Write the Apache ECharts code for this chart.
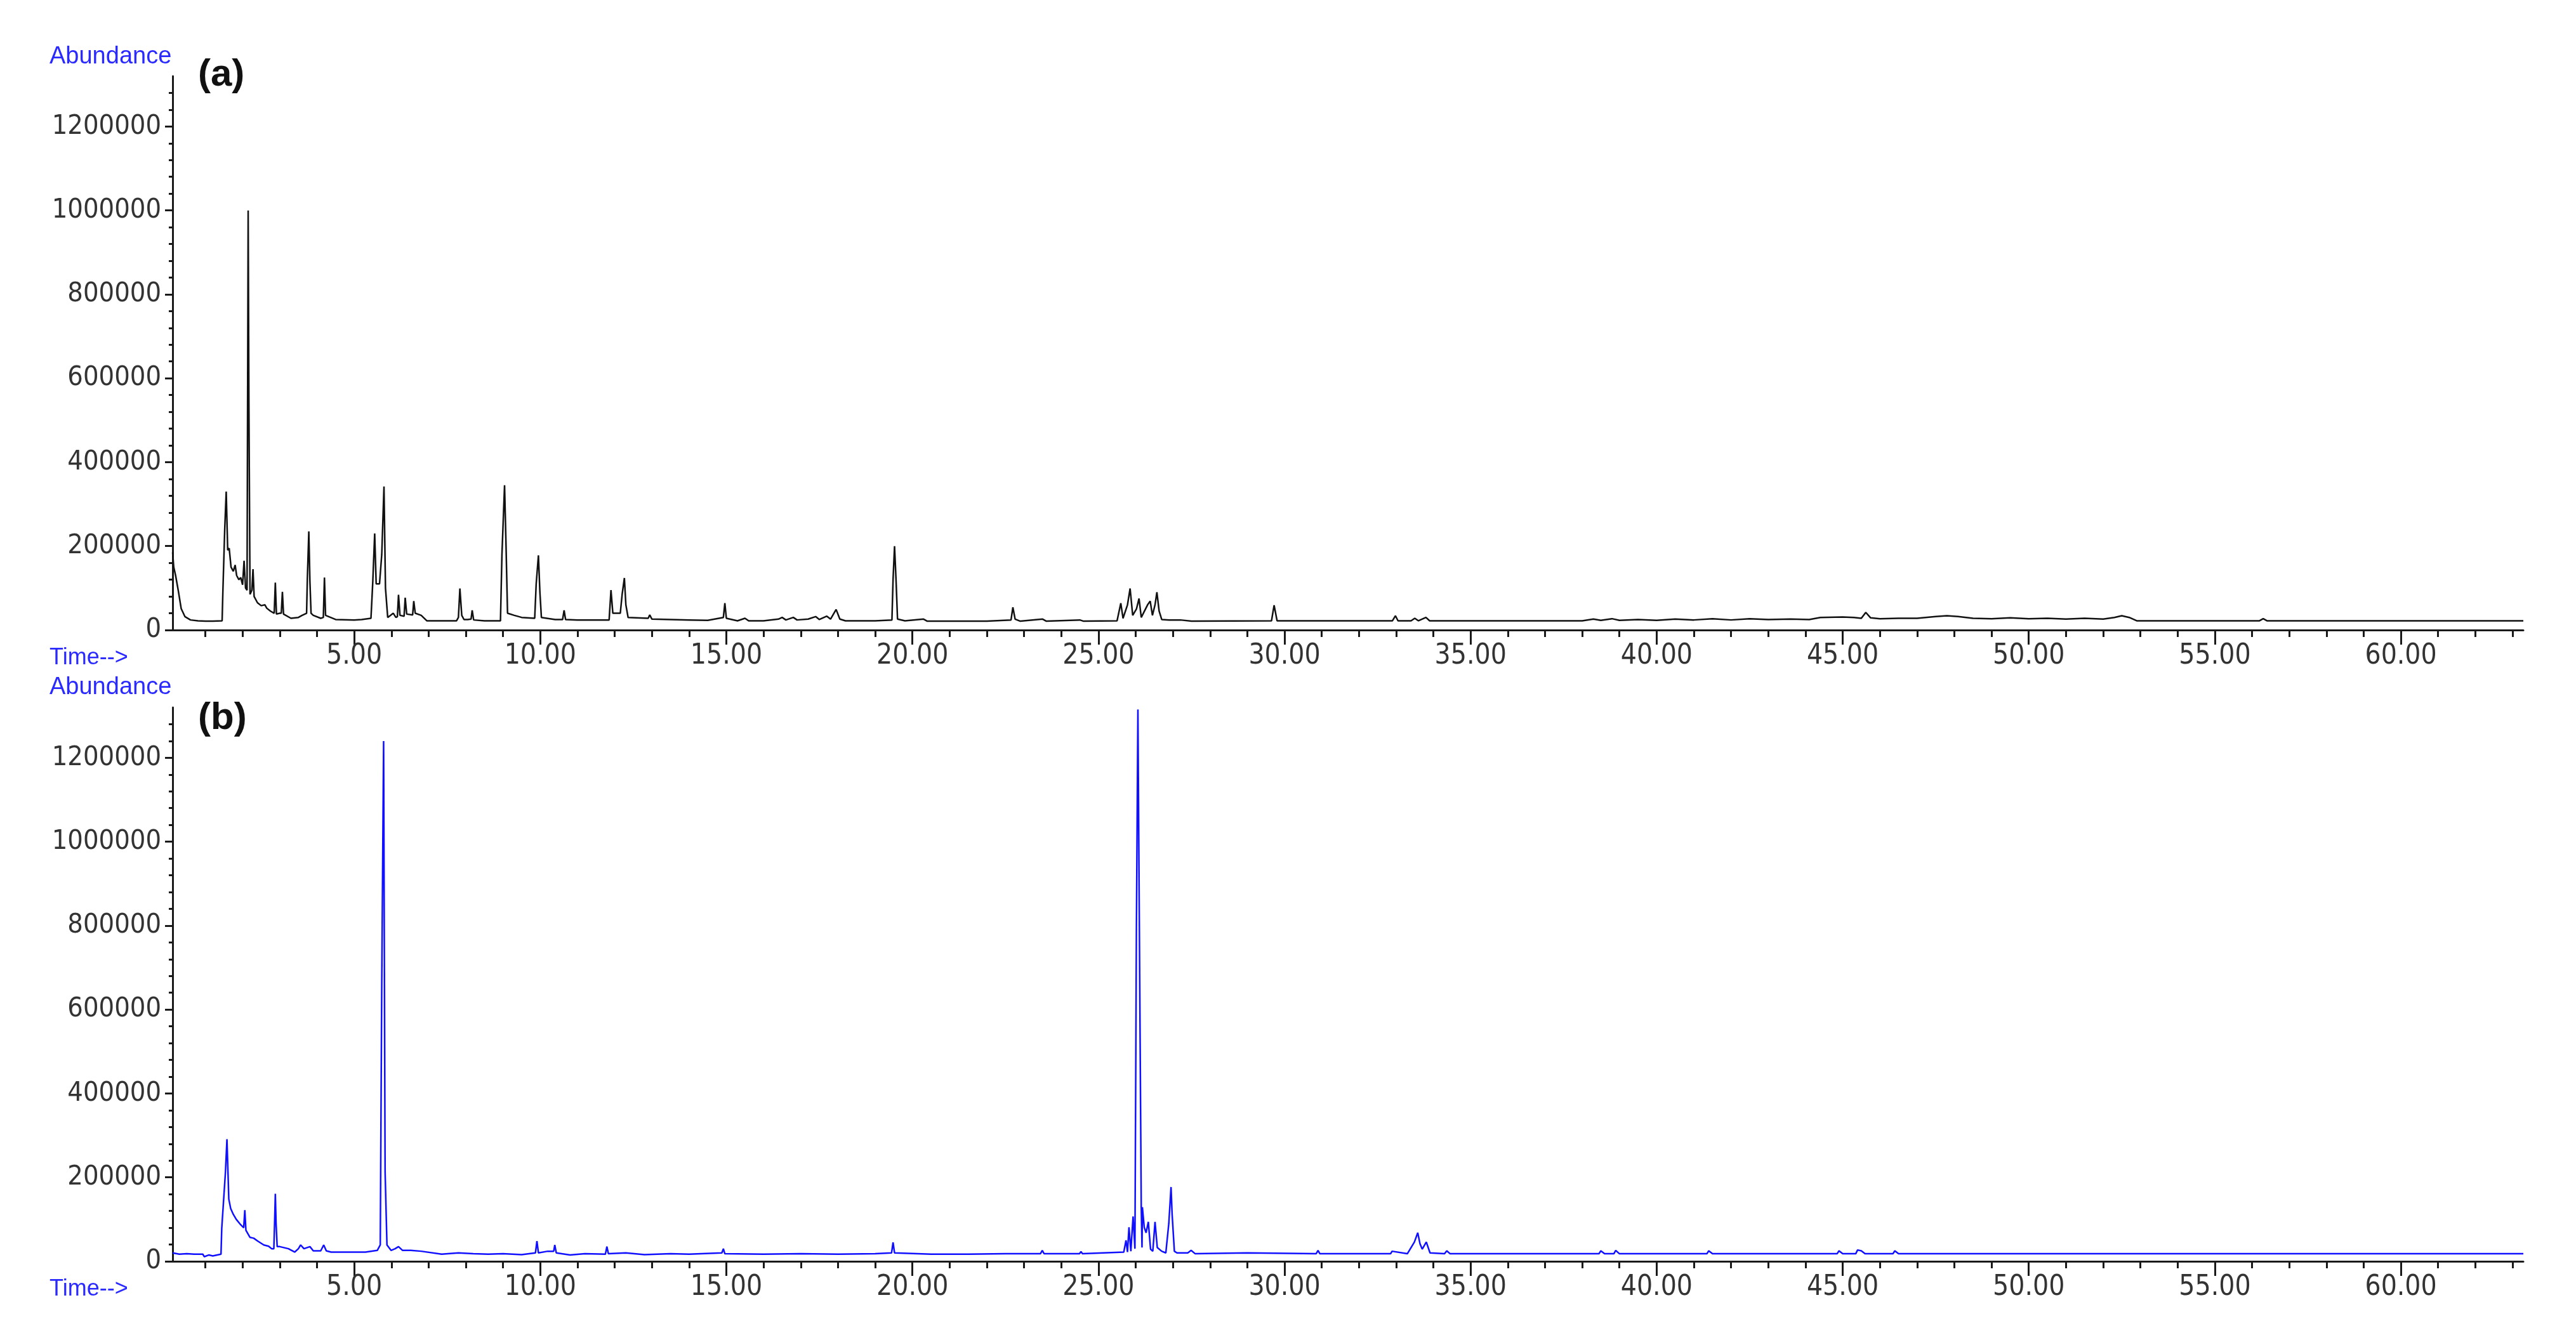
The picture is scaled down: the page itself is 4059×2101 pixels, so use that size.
<!DOCTYPE html>
<html>
<head>
<meta charset="utf-8">
<script src="https://cdn.jsdelivr.net/npm/echarts@6/dist/echarts.min.js"></script>
<style>
html,body{margin:0;padding:0;background:#fff;}
#chart{width:4059px;height:2101px;}
</style>
</head>
<body>
<div id="chart"></div>
<script>
// ---- Tick values ----
const xMajorTicks = [5,10,15,20,25,30,35,40,45,50,55,60];
const xMinorTicks = [1,2,3,4,6,7,8,9,11,12,13,14,16,17,18,19,21,22,23,24,26,27,28,29,31,32,33,34,36,37,38,39,41,42,43,44,46,47,48,49,51,52,53,54,56,57,58,59,61,62,63];
const yMajorTicks = [0,200000,400000,600000,800000,1000000,1200000];
const yMinorTicks = [40000,80000,120000,160000,240000,280000,320000,360000,440000,480000,520000,560000,640000,680000,720000,760000,840000,880000,920000,960000,1040000,1080000,1120000,1160000,1240000,1280000];

// ---- Chromatogram (a) : retention time (min) / abundance ----
const timeA = [0.12,0.15,0.2,0.27,0.35,0.45,0.6,0.8,1.0,1.2,1.45,1.47,1.52,1.56,1.6,1.64,1.69,1.75,1.8,1.84,1.9,1.95,2.0,2.04,2.08,2.12,2.15,2.17,2.2,2.25,2.28,2.31,2.4,2.5,2.6,2.65,2.75,2.85,2.88,2.91,3.0,3.04,3.07,3.1,3.3,3.5,3.6,3.72,3.74,3.78,3.81,3.84,3.9,4.1,4.17,4.2,4.23,4.5,5.0,5.2,5.45,5.5,5.55,5.59,5.68,5.74,5.8,5.84,5.9,6.05,6.12,6.16,6.19,6.23,6.34,6.37,6.41,6.57,6.6,6.64,6.8,6.95,7.3,7.75,7.8,7.84,7.89,7.95,8.05,8.14,8.17,8.21,8.5,8.93,8.97,9.04,9.08,9.12,9.3,9.5,9.85,9.89,9.95,9.99,10.03,10.4,10.6,10.64,10.68,11.0,11.85,11.9,11.95,12.15,12.2,12.26,12.3,12.36,12.9,12.94,13.0,13.5,14.0,14.5,14.92,14.96,15.0,15.3,15.5,15.6,16.0,16.4,16.5,16.6,16.8,16.9,17.2,17.4,17.5,17.7,17.8,17.95,18.05,18.2,19.0,19.45,19.48,19.52,19.56,19.6,19.8,20.3,20.4,22.0,22.65,22.7,22.76,22.9,23.5,23.6,24.5,24.6,25.5,25.6,25.66,25.78,25.85,25.92,26.02,26.09,26.15,26.32,26.39,26.45,26.52,26.57,26.63,26.7,26.9,27.2,27.5,29.65,29.72,29.8,32.9,32.98,33.05,33.4,33.5,33.6,33.8,33.9,38.0,38.3,38.5,38.8,39.0,39.5,40.0,40.5,41.0,41.5,42.0,42.5,43.0,43.6,44.1,44.4,45.0,45.3,45.5,45.62,45.75,46.0,46.5,47.0,47.5,47.8,48.1,48.5,49.0,49.5,50.0,50.5,51.0,51.5,52.0,52.3,52.5,52.7,52.9,56.2,56.3,56.4,63.29];
const abundA = [185000,150000,130000,95000,51000,32000,24000,22000,21000,21000,22000,90000,240000,330000,190000,195000,150000,140000,155000,130000,120000,125000,108000,165000,100000,95000,1000000,540000,85000,95000,145000,80000,65000,58000,60000,52000,45000,40000,113000,38000,40000,40000,91000,38000,28000,30000,35000,40000,120000,235000,115000,40000,35000,28000,30000,125000,35000,25000,24000,25000,28000,117000,230000,110000,110000,180000,342000,100000,30000,40000,30000,32000,84000,35000,33000,77000,38000,36000,69000,40000,35000,22000,22000,22000,30000,99000,35000,25000,25000,26000,47000,24000,22000,22000,180000,345000,200000,40000,35000,30000,28000,110000,178000,90000,30000,25000,25000,47000,25000,24000,24000,95000,40000,40000,85000,124000,60000,30000,28000,36000,26000,25000,24000,23000,30000,64000,28000,22000,28000,22000,22000,26000,30000,24000,30000,24000,26000,32000,25000,33000,26000,49000,26000,22000,22000,24000,120000,200000,120000,26000,22000,26000,21000,21000,24000,54000,26000,21000,26000,21000,24000,21000,22000,64000,28000,60000,99000,35000,50000,75000,30000,60000,69000,35000,60000,90000,45000,25000,24000,24000,21000,22000,59000,22000,22000,34000,22000,22000,28000,22000,30000,22000,22000,26000,23000,27000,23000,25000,23000,26000,24000,27000,24000,27000,25000,26000,25000,30000,31000,30000,28000,42000,29000,27000,28000,28000,32000,34000,32000,28000,27000,29000,27000,28000,26000,28000,26000,30000,34000,30000,22000,22000,27000,22000,22000];

// ---- Chromatogram (b) ----
const timeB = [0.12,0.3,0.5,0.7,0.93,0.97,1.09,1.2,1.42,1.44,1.54,1.58,1.63,1.68,1.75,1.83,1.95,2.03,2.06,2.09,2.2,2.3,2.41,2.57,2.7,2.78,2.84,2.86,2.88,2.9,2.93,3.0,3.23,3.4,3.5,3.56,3.65,3.81,3.9,4.1,4.18,4.25,4.38,4.88,5.3,5.62,5.7,5.74,5.79,5.83,5.88,5.99,6.1,6.19,6.3,6.52,6.8,7.35,7.8,8.2,8.6,9.0,9.5,9.87,9.91,9.95,10.2,10.36,10.39,10.43,10.8,11.2,11.75,11.79,11.83,12.3,12.8,13.5,14.0,14.88,14.92,14.96,16.0,17.0,18.0,19.0,19.44,19.48,19.52,20.5,21.5,22.5,23.44,23.49,23.54,24.49,24.53,24.57,25.68,25.74,25.78,25.82,25.87,25.93,25.98,26.02,26.06,26.12,26.15,26.17,26.18,26.23,26.28,26.34,26.4,26.46,26.52,26.58,26.7,26.81,26.89,26.95,26.98,27.04,27.11,27.4,27.49,27.6,29.0,30.85,30.9,30.95,32.85,32.89,33.3,33.49,33.58,33.64,33.7,33.81,33.91,34.3,34.36,34.45,38.45,38.5,38.6,38.85,38.9,39.0,41.35,41.4,41.5,44.85,44.9,45.0,45.35,45.4,45.5,45.6,46.35,46.4,46.5,63.29];
const abundB = [20000,17000,18000,17000,17000,11000,15000,13000,17000,78000,213000,291000,148000,126000,112000,100000,87000,80000,122000,74000,57000,55000,48000,39000,36000,30000,30000,91000,161000,91000,35000,35000,30000,22000,30000,39000,30000,35000,25000,25000,39000,25000,22000,22000,22000,26000,39000,665000,1240000,213000,39000,26000,30000,35000,26000,26000,24000,17000,20000,18000,17000,18000,16000,20000,48000,20000,24000,24000,39000,20000,15000,18000,17000,35000,18000,20000,16000,18000,17000,20000,30000,18000,17000,18000,17000,18000,20000,45000,20000,17000,17000,18000,18000,26000,18000,18000,23000,18000,22000,50000,22000,81000,24000,107000,30000,798000,1315000,520000,129000,33000,129000,81000,68000,94000,29000,24000,94000,33000,24000,20000,90000,177000,111000,24000,20000,20000,26000,18000,20000,18000,26000,18000,18000,24000,18000,46000,68000,42000,29000,46000,20000,18000,25000,18000,18000,25000,18000,18000,26000,18000,18000,25000,18000,18000,25000,18000,18000,27000,25000,18000,18000,25000,18000,18000];

const X_MIN = 0.12, X_MAX = 63.29, Y_MAX = 1320000;
const tickFont = '"Liberation Sans Narrow","Arial Narrow","DejaVu Sans Condensed",sans-serif';
const blue = '#2a2aff';

function zip(t, v){ return t.map((x,i)=>[x, v[i]]); }

function xAxes(grid){
  return [
    {type:'value', gridIndex:grid, position:'bottom', min:X_MIN, max:X_MAX,
     axisLine:{show:true, onZero:false, lineStyle:{color:'#1a1a1a', width:3}},
     axisTick:{show:true, length:23, lineStyle:{color:'#1a1a1a', width:3}, customValues:xMajorTicks},
     axisLabel:{show:true, margin:20, fontSize:44, fontFamily:tickFont, color:'#333',
       customValues:xMajorTicks, formatter:(v)=>Number(v).toFixed(2)},
     splitLine:{show:false}},
    {type:'value', gridIndex:grid, position:'bottom', min:X_MIN, max:X_MAX,
     axisLine:{show:false, onZero:false},
     axisTick:{show:true, length:11, lineStyle:{color:'#1a1a1a', width:3}, customValues:xMinorTicks},
     axisLabel:{show:false}, splitLine:{show:false}}
  ];
}
function yAxes(grid){
  return [
    {type:'value', gridIndex:grid, position:'left', min:0, max:Y_MAX,
     axisLine:{show:true, onZero:false, lineStyle:{color:'#1a1a1a', width:3}},
     axisTick:{show:true, length:12, lineStyle:{color:'#1a1a1a', width:3}, customValues:yMajorTicks},
     axisLabel:{show:true, margin:18, fontSize:43, fontFamily:tickFont, color:'#333',
       customValues:yMajorTicks, formatter:(v)=>String(Math.round(v))},
     splitLine:{show:false}},
    {type:'value', gridIndex:grid, position:'left', min:0, max:Y_MAX,
     axisLine:{show:false, onZero:false},
     axisTick:{show:true, length:6, lineStyle:{color:'#1a1a1a', width:3}, customValues:yMinorTicks},
     axisLabel:{show:false}, splitLine:{show:false}}
  ];
}

const txt = (x, y, text, size, color, weight) => ({
  type:'text', x:x, y:y,
  style:{text:text, fontSize:size, fontFamily:'"Liberation Sans",Arial,sans-serif',
         fontWeight:weight||'normal', fill:color, verticalAlign:'middle', align:'left'}
});

const chart = echarts.init(document.getElementById('chart'), null, {renderer:'canvas'});
chart.setOption({
  animation:false,
  backgroundColor:'#fff',
  grid:[
    {left:272, top:120, width:3704, height:873},
    {left:272, top:1115, width:3704, height:873}
  ],
  xAxis:[...xAxes(0), ...xAxes(1)],
  yAxis:[...yAxes(0), ...yAxes(1)],
  series:[
    {type:'line', name:'(a)', xAxisIndex:0, yAxisIndex:0, data:zip(timeA, abundA),
     showSymbol:false, symbol:'none', lineStyle:{color:'#111', width:2.5}, silent:true},
    {type:'line', name:'(b)', xAxisIndex:2, yAxisIndex:2, data:zip(timeB, abundB),
     showSymbol:false, symbol:'none', lineStyle:{color:'#1010ff', width:2.5}, silent:true}
  ],
  graphic:[
    txt(78, 90, 'Abundance', 38, blue),
    txt(312, 118, '(a)', 60, '#111', 'bold'),
    txt(78, 1037, 'Time-->', 36, blue),
    txt(78, 1084, 'Abundance', 38, blue),
    txt(312, 1132, '(b)', 60, '#111', 'bold'),
    txt(78, 2032, 'Time-->', 36, blue)
  ]
});
</script>
</body>
</html>
